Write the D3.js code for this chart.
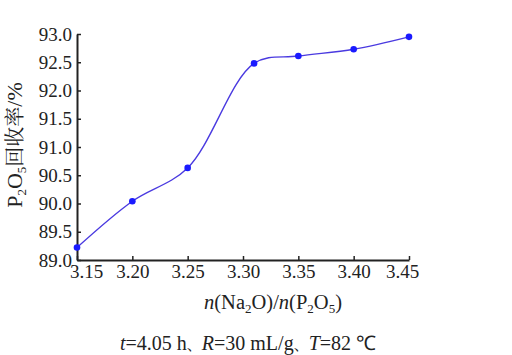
<!DOCTYPE html>
<html><head><meta charset="utf-8">
<script src="https://cdn.jsdelivr.net/npm/d3@7/dist/d3.min.js"></script>
</head>
<body style="margin:0;background:#fff">
<svg id="c" width="512" height="355" font-family="Liberation Serif" style="font-family:'Liberation Serif',serif"></svg>
<script>
const ratios = [3.15, 3.20, 3.25, 3.31, 3.35, 3.40, 3.45];
const recovery = [89.22, 90.04, 90.63, 92.48, 92.61, 92.73, 92.95];
const xTicks = [3.15, 3.20, 3.25, 3.30, 3.35, 3.40, 3.45];
const xTickLabels = ["3.15", "3.20", "3.25", "3.30", "3.35", "3.40", "3.45"];
const yTicks = [89.0, 89.5, 90.0, 90.5, 91.0, 91.5, 92.0, 92.5, 93.0];
const yTickLabels = ["89.0", "89.5", "90.0", "90.5", "91.0", "91.5", "92.0", "92.5", "93.0"];

const SERIF = "Liberation Serif";
const CJK = "Noto Serif CJK SC";
const svg = d3.select("#c");
const x = d3.scaleLinear().domain([3.15, 3.45]).range([77, 409]);
const y = d3.scaleLinear().domain([89, 93]).range([260, 34]);

const xa = svg.append("g").attr("transform", "translate(0,260)")
  .call(d3.axisBottom(x).tickValues(xTicks).tickFormat((d, i) => xTickLabels[i])
    .tickSizeInner(-4).tickSizeOuter(0).tickPadding(5));
const ya = svg.append("g").attr("transform", "translate(77,0)")
  .call(d3.axisLeft(y).tickValues(yTicks).tickFormat((d, i) => yTickLabels[i])
    .tickSizeInner(-4).tickSizeOuter(0).tickPadding(5));
[xa, ya].forEach(a => {
  a.attr("font-family", SERIF).attr("font-size", 19);
  a.select(".domain").attr("stroke", "#222").attr("stroke-width", 2);
  a.selectAll(".tick line").attr("stroke", "#222").attr("stroke-width", 1.5);
  a.selectAll("text").attr("font-family", SERIF).attr("font-size", 19).attr("fill", "#222");
});
xa.selectAll(".tick text").attr("dx", (d, i) => i === 0 ? 9 : (i === xTicks.length - 1 ? -7 : 0));

const line = d3.line().x((d, i) => x(ratios[i])).y(d => y(d)).curve(d3.curveCatmullRom);
svg.append("path").attr("d", line(recovery)).attr("fill", "none")
  .attr("stroke", "#4a3ae0").attr("stroke-width", 1.4);
svg.selectAll("circle.pt").data(recovery).enter().append("circle")
  .attr("cx", (d, i) => x(ratios[i])).attr("cy", d => y(d)).attr("r", 3.3)
  .attr("fill", "#1a1aff");

function addText(sel, parts) {
  parts.forEach(p => {
    const t = sel.append("tspan").text(p.t).attr("font-family", p.cjk ? CJK : SERIF);
    if (p.it) t.attr("font-style", "italic");
    if (p.fs) t.attr("font-size", p.fs);
    if (p.dy) t.attr("dy", p.dy);
  });
}

// x axis title
const xt = svg.append("text").attr("x", 273).attr("y", 309).attr("text-anchor", "middle")
  .attr("font-size", 20.5).attr("font-family", SERIF).attr("fill", "#222");
addText(xt, [
  {t: "n", it: 1}, {t: "(Na"}, {t: "2", fs: 13, dy: 4}, {t: "O)/", dy: -4},
  {t: "n", it: 1}, {t: "(P"}, {t: "2", fs: 13, dy: 4}, {t: "O", dy: -4},
  {t: "5", fs: 13, dy: 4}, {t: ")", dy: -4}
]);

// y axis title
const yt = svg.append("text").attr("transform", "translate(22,145) rotate(-90)")
  .attr("text-anchor", "middle").attr("font-size", 22).attr("font-family", SERIF).attr("fill", "#222");
addText(yt, [
  {t: "P"}, {t: "2", fs: 13, dy: 4}, {t: "O", dy: -4}, {t: "5", fs: 13, dy: 4},
  {t: "回收率", cjk: 1, fs: 20, dy: -4}, {t: "/%"}
]);

// caption
const cp = svg.append("text").attr("x", 248).attr("y", 350).attr("text-anchor", "middle")
  .attr("font-size", 20).attr("font-family", SERIF).attr("fill", "#222");
addText(cp, [
  {t: "t", it: 1}, {t: "=4.05 h"}, {t: "、", cjk: 1, fs: 15}, {t: "R", it: 1},
  {t: "=30 mL/g"}, {t: "、", cjk: 1, fs: 15}, {t: "T", it: 1}, {t: "=82 ℃"}
]);
</script>
</body></html>
